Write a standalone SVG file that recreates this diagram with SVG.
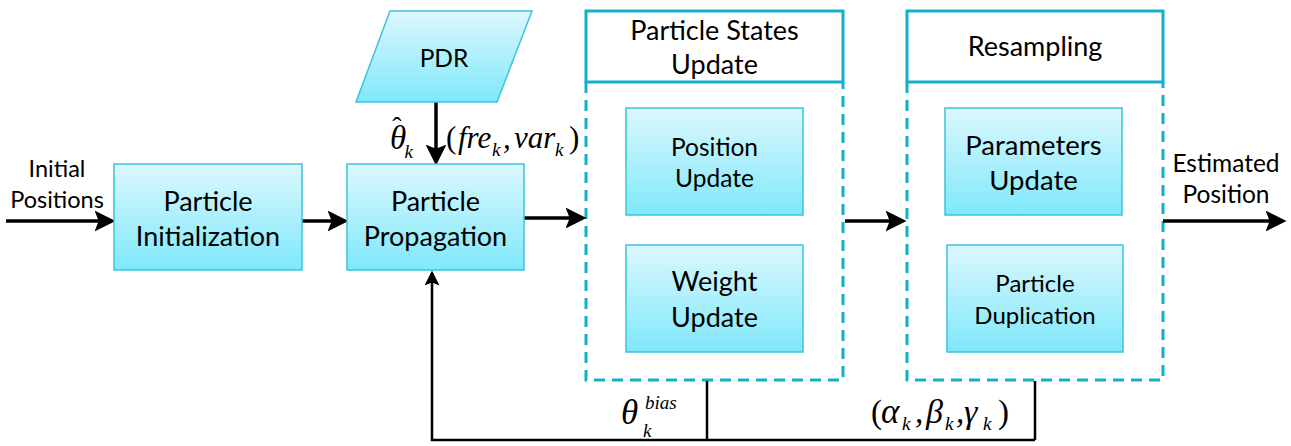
<svg xmlns="http://www.w3.org/2000/svg" width="1291" height="446" viewBox="0 0 1291 446">
<style>
.box{stroke:#3cc4da;stroke-width:1.5;fill:url(#g)}
.t{font-family:Lato,"Liberation Sans",sans-serif;fill:#000;text-anchor:middle}
.m{font-family:"Liberation Serif","Times New Roman",serif;font-style:italic;fill:#000}
.n{font-style:normal}
.c{stroke:#000;stroke-width:3.5;fill:none}
.solid{stroke:#12afca;stroke-width:3;fill:#fff}
.dash{stroke:#12afca;stroke-width:3;fill:none;stroke-dasharray:11 7}
</style>
<defs>
<linearGradient id="g" x1="0" y1="0" x2="0" y2="1">
<stop offset="0" stop-color="#dcf8fd"/>
<stop offset="1" stop-color="#7fe8fb"/>
</linearGradient>
<marker id="ah" markerWidth="6" markerHeight="6" refX="5" refY="3" orient="auto" markerUnits="strokeWidth">
<path d="M0,0 L6,3 L0,6 L1.2,3 Z" fill="#000"/>
</marker>
</defs>

<g id="psu-container">
<rect class="solid" x="586" y="11" width="257" height="71"/>
<path class="dash" d="M586,82 V380 H843 V82"/>
<text class="t" font-size="27" x="714.5" y="40">Particle States</text>
<text class="t" font-size="27" x="714.5" y="74">Update</text>
</g>
<g id="res-container">
<rect class="solid" x="907" y="11" width="256" height="71"/>
<path class="dash" d="M907,82 V380 H1163 V82"/>
<text class="t" font-size="27" x="1035" y="56">Resampling</text>
</g>

<g id="connectors">
<line class="c" x1="6" y1="221" x2="112" y2="221" marker-end="url(#ah)"/>
<line class="c" x1="302" y1="221" x2="345" y2="221" marker-end="url(#ah)"/>
<line class="c" x1="524" y1="218" x2="583" y2="218" marker-end="url(#ah)"/>
<line class="c" x1="845" y1="221" x2="903" y2="221" marker-end="url(#ah)"/>
<line class="c" x1="1163" y1="221" x2="1283" y2="221" marker-end="url(#ah)"/>
<line class="c" x1="436" y1="102" x2="436" y2="162" stroke-width="2.5" marker-end="url(#ah)"/>
<path d="M707,381 V440 M1035,381 V440" stroke="#000" stroke-width="2.5" fill="none"/>
<path d="M1035,440 H432 V273" stroke="#000" stroke-width="2.5" fill="none" marker-end="url(#ah)"/>
<text class="t" font-size="23.5" x="57" y="177">Initial</text>
<text class="t" font-size="23.5" x="57" y="208">Positions</text>
<text class="t" font-size="24.5" x="1226" y="172">Estimated</text>
<text class="t" font-size="24.5" x="1226" y="203">Position</text>
<g class="m">
<text x="390" y="149" font-size="33">θ<tspan class="n" font-size="28" dx="-14" dy="-13">ˆ</tspan><tspan font-size="19" dx="3" dy="22">k</tspan></text>
<text x="446" y="148" font-size="31" class="n">(</text>
<text x="458" y="148" font-size="31">fre</text>
<text x="492" y="156" font-size="19">k</text>
<text x="503" y="148" font-size="31">,</text>
<text x="514" y="148" font-size="31">var</text>
<text x="555" y="156" font-size="19">k</text>
<text x="569" y="148" font-size="31" class="n">)</text>
<text x="621" y="424" font-size="35">θ</text>
<text x="645" y="409" font-size="19">bias</text>
<text x="643" y="437" font-size="19">k</text>
<text x="871" y="423" font-size="33" class="n">(</text>
<text x="881" y="423" font-size="35">α</text>
<text x="902" y="430" font-size="19">k</text>
<text x="915" y="423" font-size="33">,</text>
<text x="926" y="423" font-size="34">β</text>
<text x="945" y="430" font-size="19">k</text>
<text x="956" y="423" font-size="33">,</text>
<text x="964" y="423" font-size="34">γ</text>
<text x="983" y="430" font-size="19">k</text>
<text x="998" y="423" font-size="33" class="n">)</text>
</g>
</g>

<g id="pdr">
<polygon class="box" points="390,11 532,11 497,102 356,102"/>
<text class="t" font-size="24.5" x="444" y="67">PDR</text>
</g>
<g id="init">
<rect class="box" x="114" y="164" width="188" height="106"/>
<text class="t" font-size="27" x="208" y="211">Particle</text>
<text class="t" font-size="27" x="208" y="246">Initialization</text>
</g>
<g id="prop">
<rect class="box" x="347" y="164" width="177" height="106"/>
<text class="t" font-size="27" x="435.5" y="211">Particle</text>
<text class="t" font-size="27" x="435.5" y="246">Propagation</text>
</g>
<g id="pos">
<rect class="box" x="626" y="108" width="177" height="107"/>
<text class="t" font-size="24.5" x="714.5" y="156">Position</text>
<text class="t" font-size="24.5" x="714.5" y="187">Update</text>
</g>
<g id="weight">
<rect class="box" x="626" y="245" width="177" height="107"/>
<text class="t" font-size="27" x="714.5" y="291">Weight</text>
<text class="t" font-size="27" x="714.5" y="327">Update</text>
</g>
<g id="params">
<rect class="box" x="945" y="108" width="177" height="107"/>
<text class="t" font-size="27.5" x="1033.5" y="155">Parameters</text>
<text class="t" font-size="27.5" x="1033.5" y="190">Update</text>
</g>
<g id="dup">
<rect class="box" x="947" y="245" width="176" height="107"/>
<text class="t" font-size="24" x="1035" y="292">Particle</text>
<text class="t" font-size="24" x="1035" y="324">Duplication</text>
</g>
</svg>
